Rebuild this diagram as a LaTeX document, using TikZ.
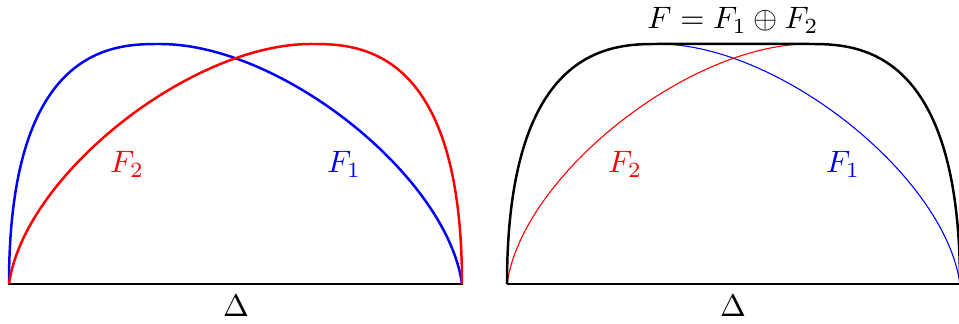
\documentclass[tikz,border=0pt]{standalone}
\begin{document}
\begin{tikzpicture}[x=0.3226pt,y=0.3226pt,
  axisline/.style={black,line width=0.4pt},
  thickcurve/.style={line width=0.8pt},
  thincurve/.style={line width=0.35pt},
  lbl/.style={inner sep=0pt,anchor=base}]
\useasboundingbox (0,0) rectangle (959,324);
% left panel
\coordinate (L0) at (9,40);
\coordinate (L1) at (462,40);
\coordinate (LB) at (160,280);
\coordinate (LR) at (311,280);
\draw[axisline] (8,40) -- (463,40);
\draw[blue,thickcurve] (L0) .. controls (9,280) and (115,280) .. (LB)
  .. controls (281,280) and (447,148) .. (L1);
\draw[red,thickcurve] (L0) .. controls (24,148) and (190,280) .. (LR)
  .. controls (356,280) and (462,280) .. (L1);
\node[lbl,red] (f2l) at (127,151) {$F_2$};
\node[lbl,blue] (f1l) at (344,151) {$F_1$};
\node[lbl] (dl) at (236,7) {$\Delta$};
% right panel
\coordinate (R0) at (507,40);
\coordinate (R1) at (960,40);
\coordinate (RB) at (658,280);
\coordinate (RR) at (809,280);
\draw[axisline] (507,40) -- (961,40);
\draw[blue,thincurve] (RB) .. controls (779,280) and (945,148) .. (R1);
\draw[red,thincurve] (R0) .. controls (522,148) and (688,280) .. (RR);
\draw[black,thickcurve] (R0) .. controls (507,280) and (613,280) .. (RB)
  -- (RR) .. controls (854,280) and (960,280) .. (R1);
\node[lbl,red] (f2r) at (625,151) {$F_2$};
\node[lbl,blue] (f1r) at (843,151) {$F_1$};
\node[lbl] (dr) at (733,7) {$\Delta$};
\node[lbl] (title) at (733,295) {$F=F_1\oplus F_2$};
\end{tikzpicture}
\end{document}
